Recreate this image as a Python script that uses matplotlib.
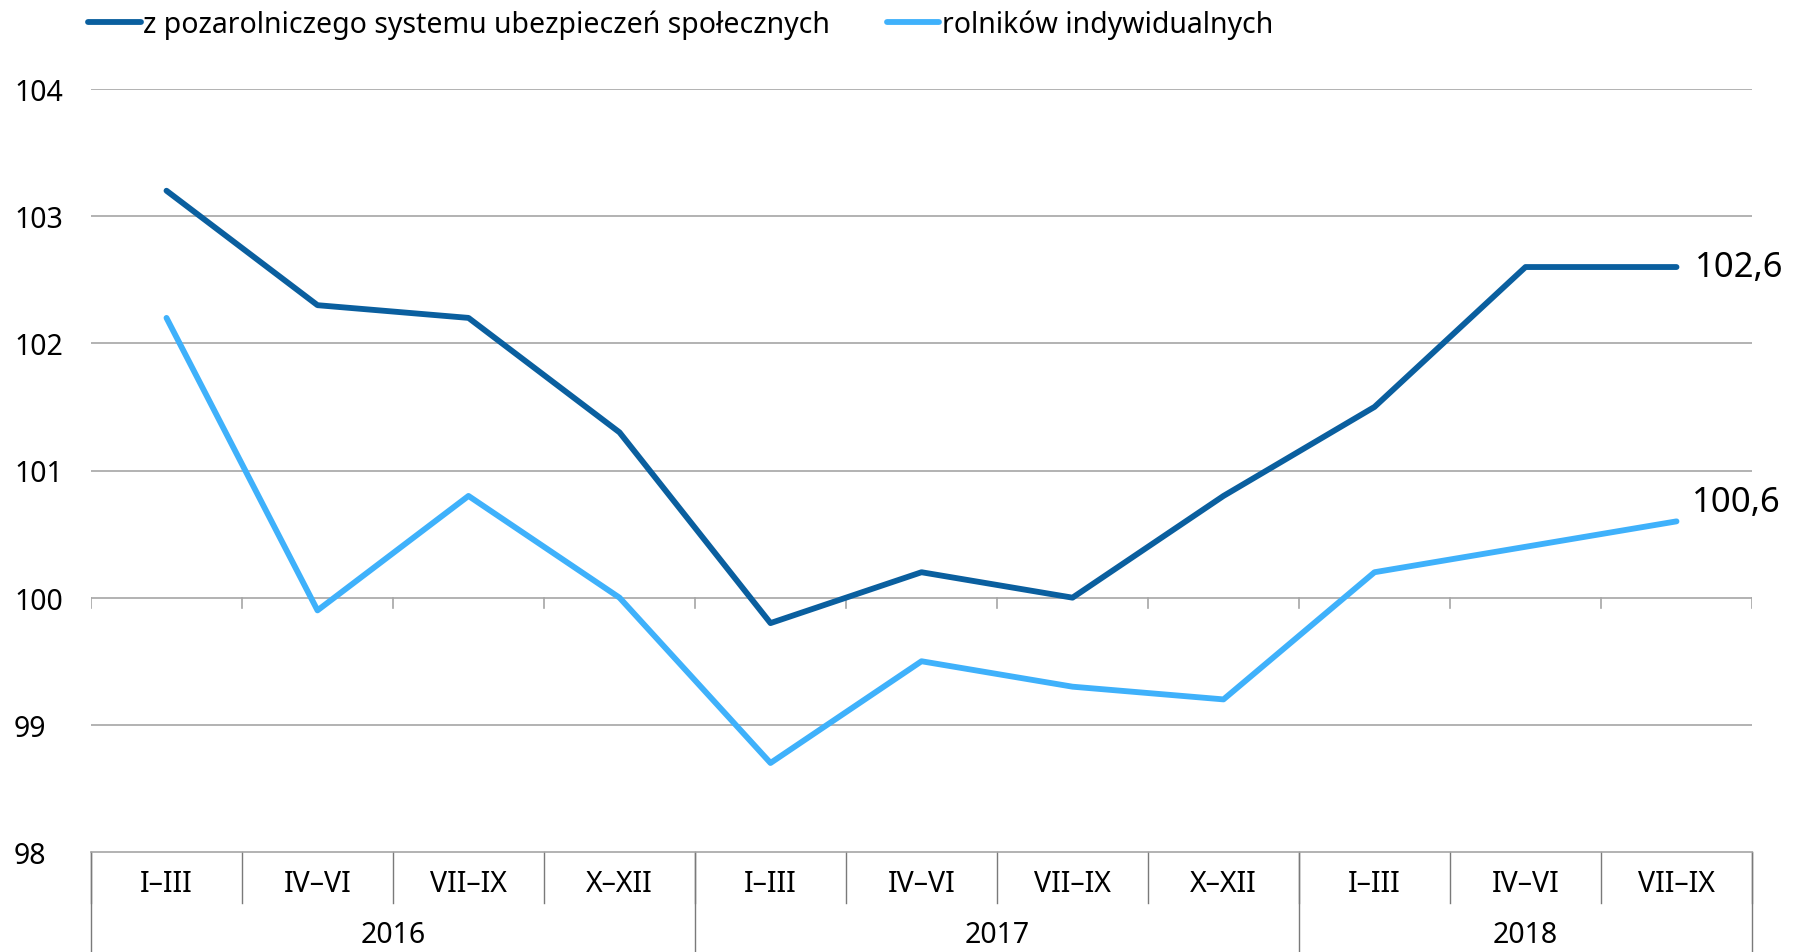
import matplotlib
matplotlib.use("Agg")
import matplotlib.pyplot as plt
import matplotlib.transforms as mtransforms

plt.rcParams['font.family'] = ['Noto Sans', 'DejaVu Sans']
plt.rcParams['font.stretch'] = 'condensed'

quarters = ["I–III", "IV–VI", "VII–IX", "X–XII",
            "I–III", "IV–VI", "VII–IX", "X–XII",
            "I–III", "IV–VI", "VII–IX"]
years = ["2016", "2017", "2018"]
year_sizes = [4, 4, 3]

nonagri = [103.2, 102.3, 102.2, 101.3, 99.8, 100.2, 100.0, 100.8, 101.5, 102.6, 102.6]
farmers = [102.2, 99.9, 100.8, 100.0, 98.7, 99.5, 99.3, 99.2, 100.2, 100.4, 100.6]
series_names = ["z pozarolniczego systemu ubezpieczeń społecznych", "rolników indywidualnych"]

DARK = "#0a5f9f"
LIGHT = "#3fb1fb"
GRID = "#a6a6a6"
TABLE = "#7a7a7a"

W, H = 1803, 953
fig = plt.figure(figsize=(W / 100, H / 100), dpi=100)
left, right, top, bottom = 91, 1752, 90, 853
ax = fig.add_axes([left / W, 1 - bottom / H, (right - left) / W, (bottom - top) / H])

x = list(range(len(quarters)))
ax.plot(x, nonagri, color=DARK, lw=4.2, solid_capstyle="round", solid_joinstyle="round",
        label=series_names[0], zorder=3)
ax.plot(x, farmers, color=LIGHT, lw=4.2, solid_capstyle="round", solid_joinstyle="round",
        label=series_names[1], zorder=3)

ax.set_xlim(-0.5, len(quarters) - 0.5)
ax.set_ylim(98, 104)
yt = [98, 99, 100, 101, 102, 103, 104]
ax.set_yticks(yt)
ax.set_yticklabels([str(v) for v in yt], fontsize=20.5, ha="left")
ax.tick_params(axis="y", length=0, pad=(left - 14) * 72 / 100)
ax.set_xticks([])
for v in yt[1:]:
    ax.axhline(v, color=GRID, lw=1.2, zorder=1)
for s in ["left", "right", "top"]:
    ax.spines[s].set_visible(False)
ax.spines["bottom"].set_color(GRID)
ax.spines["bottom"].set_linewidth(1.2)

# ticks on the 100 line
tick_len = 10 / (bottom - top) * 6
for b in range(len(quarters) + 1):
    ax.plot([b - 0.5, b - 0.5], [100, 100 - tick_len], color=GRID, lw=1.2, zorder=1)

# end labels
ax.annotate(f"{nonagri[-1]:.1f}".replace(".", ","), (x[-1], nonagri[-1]),
            xytext=(13, 0), textcoords="offset points", fontsize=25, va="center", ha="left")
ax.annotate(f"{farmers[-1]:.1f}".replace(".", ","), (x[-1], farmers[-1]),
            xytext=(11, 14), textcoords="offset points", fontsize=25, va="center", ha="left")

# category table below the axes
trans = mtransforms.blended_transform_factory(ax.transData, ax.transAxes)
ph = bottom - top
row1 = -(904 - bottom) / ph
row2 = -(H - bottom) / ph
for i, q in enumerate(quarters):
    ax.text(i, (0 + row1) / 2 - 0.008, q, transform=trans, ha="center", va="center", fontsize=20.5)
for b in range(len(quarters) + 1):
    ax.plot([b - 0.5, b - 0.5], [0, row1], transform=trans, color=TABLE, lw=1, clip_on=False)
start = 0
for yname, n in zip(years, year_sizes):
    ax.text(start + n / 2 - 0.5, (row1 + row2) / 2 - 0.009, yname, transform=trans,
            ha="center", va="center", fontsize=20.5)
    ax.plot([start - 0.5, start - 0.5], [0, row2], transform=trans, color=TABLE, lw=1, clip_on=False)
    start += n
ax.plot([start - 0.5, start - 0.5], [0, row2], transform=trans, color=TABLE, lw=1, clip_on=False)

fig.legend(loc="upper left", bbox_to_anchor=(88 / W, 1 - 10 / H), ncol=2, frameon=False,
           fontsize=20.5, handlelength=1.85, handletextpad=0.08, columnspacing=2.0,
           borderaxespad=0, borderpad=0)

fig.savefig("out.png", dpi=100)
